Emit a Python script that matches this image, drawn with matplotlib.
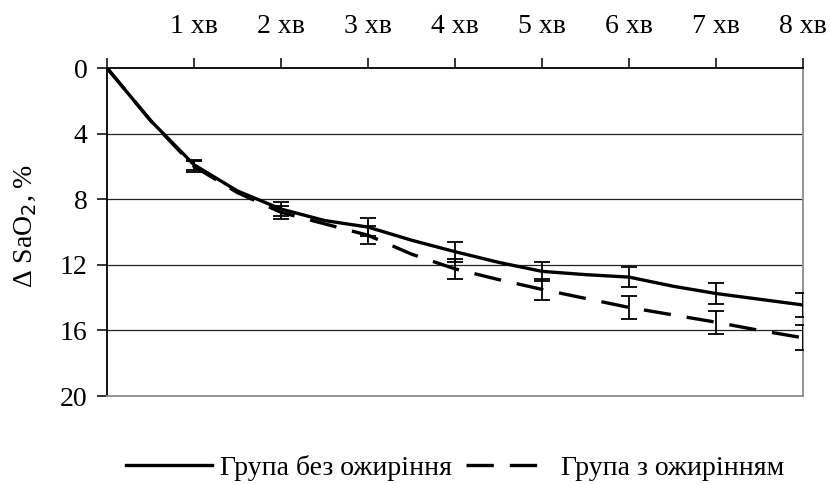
import matplotlib
matplotlib.use("Agg")
import matplotlib.pyplot as plt
import numpy as np

# time points (minutes)
t = [0, 0.5, 1, 1.5, 2, 2.5, 3, 3.5, 4, 4.5, 5, 5.5, 6, 6.5, 7, 7.5, 8]
no_obesity = [0, 3.2, 5.9, 7.5, 8.6, 9.3, 9.7, 10.5, 11.2, 11.85, 12.4, 12.6, 12.75, 13.3, 13.75, 14.1, 14.45]
obesity = [0, 3.2, 6.0, 7.6, 8.8, 9.5, 10.2, 11.35, 12.25, 12.9, 13.5, 14.05, 14.6, 15.05, 15.5, 16.0, 16.45]

# error bars at whole minutes
err_t = [1, 2, 3, 4, 5, 6, 7, 8]
no_obesity_mean = [5.9, 8.6, 9.7, 11.2, 12.4, 12.75, 13.75, 14.45]
no_obesity_err = [0.3, 0.4, 0.55, 0.6, 0.6, 0.6, 0.67, 0.73]
obesity_mean = [6.0, 8.8, 10.2, 12.25, 13.5, 14.6, 15.5, 16.45]
obesity_err = [0.35, 0.4, 0.55, 0.6, 0.65, 0.7, 0.7, 0.76]

x_ticks = [0, 1, 2, 3, 4, 5, 6, 7, 8]
x_labels = ["", "1 хв", "2 хв", "3 хв", "4 хв", "5 хв", "6 хв", "7 хв", "8 хв"]
y_ticks = [0, 4, 8, 12, 16, 20]

label_solid = "Група без ожиріння"
label_dash = "Група з ожирінням"

plt.rcParams['font.family'] = ['Liberation Serif', 'DejaVu Serif']

fig = plt.figure(figsize=(8.3, 4.84), dpi=100)
ax = fig.add_axes([107/830, 1-396/484, (803-107)/830, (396-68)/484])

for v in [4, 8, 12, 16]:
    ax.axhline(v, color='#222222', lw=0.9, zorder=1)

l1, = ax.plot(t, no_obesity, color='black', lw=2.4, solid_joinstyle='miter', zorder=3, label=label_solid)
l2, = ax.plot(t, obesity, color='black', lw=2.4, dashes=(8.2, 4.8), zorder=3, label=label_dash)

ax.errorbar(err_t, no_obesity_mean, yerr=no_obesity_err, fmt='none', ecolor='black',
            elinewidth=1.3, capsize=5.5, capthick=1.3, zorder=4)
ax.errorbar(err_t, obesity_mean, yerr=obesity_err, fmt='none', ecolor='black',
            elinewidth=1.3, capsize=5.5, capthick=1.3, zorder=4)

ax.set_xlim(0, 8)
ax.set_ylim(20, 0)
ax.xaxis.tick_top()
ax.set_xticks(x_ticks)
ax.set_xticklabels(x_labels)
ax.set_yticks(y_ticks)
ax.tick_params(axis='x', direction='out', length=7, width=1.1, pad=14, labelsize=20, colors='black')
ax.tick_params(axis='y', direction='out', length=7, width=1.1, pad=7, labelsize=20)

ax.spines['left'].set_color('black')
ax.spines['left'].set_linewidth(1.3)
ax.spines['top'].set_color('black')
ax.spines['top'].set_linewidth(1.3)
ax.spines['right'].set_color('#8c8c8c')
ax.spines['right'].set_linewidth(1.3)
ax.spines['bottom'].set_color('#8c8c8c')
ax.spines['bottom'].set_linewidth(1.3)

ax.set_ylabel("Δ SaO$_2$, %", fontsize=20, labelpad=6)
ax.yaxis.set_label_coords(-0.097, 0.52)

fig.legend(handles=[l1, l2], loc='center', bbox_to_anchor=(455/830, 1-468/484), ncol=2,
           frameon=False, fontsize=20, handlelength=3.1, handletextpad=0.3, columnspacing=0.5,
           borderpad=0, borderaxespad=0)

fig.savefig("out.png", dpi=100)
